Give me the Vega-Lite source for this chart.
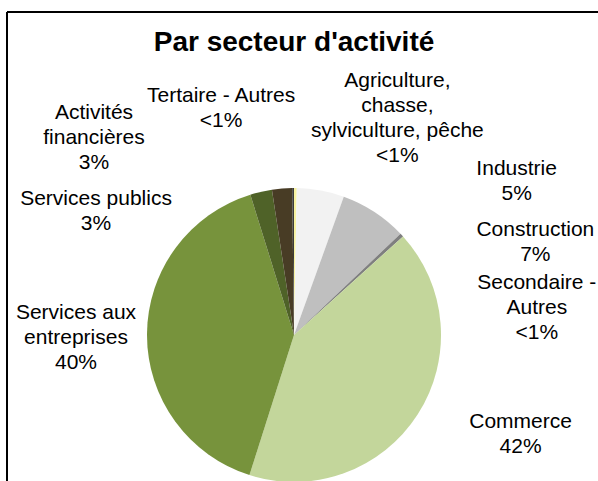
{
  "$schema": "https://vega.github.io/schema/vega-lite/v6.json",
  "width": 574,
  "height": 469,
  "autosize": {"type": "none"},
  "padding": {"left": 7, "top": 12, "right": 17, "bottom": 0},
  "background": "#ffffff",
  "title": {
    "text": "Par secteur d'activité",
    "font": "Liberation Sans",
    "fontSize": 28,
    "fontWeight": "bold",
    "color": "#000000",
    "anchor": "middle",
    "frame": "group",
    "baseline": "alphabetic",
    "offset": -68
  },
  "data": {
    "values": [
      {"rank": 1, "sector": "Agriculture, chasse, sylviculture, pêche", "share": 0.3, "label": "Agriculture,\nchasse,\nsylviculture, pêche\n<1%"},
      {"rank": 2, "sector": "Industrie", "share": 5.2, "label": "Industrie\n5%"},
      {"rank": 3, "sector": "Construction", "share": 7.4, "label": "Construction\n7%"},
      {"rank": 4, "sector": "Secondaire - Autres", "share": 0.4, "label": "Secondaire -\nAutres\n<1%"},
      {"rank": 5, "sector": "Commerce", "share": 41.6, "label": "Commerce\n42%"},
      {"rank": 6, "sector": "Services aux entreprises", "share": 40.3, "label": "Services aux\nentreprises\n40%"},
      {"rank": 7, "sector": "Services publics", "share": 2.4, "label": "Services publics\n3%"},
      {"rank": 8, "sector": "Activités financières", "share": 2.2, "label": "Activités\nfinancières\n3%"},
      {"rank": 9, "sector": "Tertaire - Autres", "share": 0.2, "label": "Tertaire - Autres\n<1%"}
    ]
  },
  "layer": [
    {
      "data": {"values": [{"edge": "left"}]},
      "mark": {"type": "rule", "color": "#000000", "strokeWidth": 2},
      "encoding": {"x": {"value": 0}}
    },
    {
      "data": {"values": [{"edge": "top"}]},
      "mark": {"type": "rule", "color": "#000000", "strokeWidth": 2, "x": 0, "x2": 591},
      "encoding": {"y": {"value": 0}}
    },
    {
      "mark": {"type": "arc", "outerRadius": 147, "y": 323},
      "encoding": {
        "theta": {"field": "share", "type": "quantitative", "stack": true},
        "order": {"field": "rank", "type": "quantitative"},
        "color": {
          "field": "sector",
          "type": "nominal",
          "legend": null,
          "scale": {
            "domain": ["Agriculture, chasse, sylviculture, pêche", "Industrie", "Construction", "Secondaire - Autres", "Commerce", "Services aux entreprises", "Services publics", "Activités financières", "Tertaire - Autres"],
            "range": ["#f7f2a0", "#f2f2f2", "#bfbfbf", "#7f7f7f", "#c3d69b", "#77933c", "#4f6228", "#483c25", "#3b3b3b"]
          }
        }
      }
    },
    {
      "mark": {
        "type": "text",
        "radius": 147,
        "y": 323,
        "font": "Liberation Sans",
        "fontSize": 21,
        "lineHeight": 25,
        "lineBreak": "\n",
        "align": "center",
        "baseline": "middle",
        "color": "#000000",
        "dx": {"expr": "[102, 196, 161, 135, 103, -71, -165, -188, -72][datum.rank - 1]"},
        "dy": {"expr": "[-107.5, -21.5, 18.5, 48, 7.5, -22, 7.5, -75, -92.5][datum.rank - 1]"}
      },
      "encoding": {
        "theta": {"field": "share", "type": "quantitative", "stack": true},
        "order": {"field": "rank", "type": "quantitative"},
        "text": {"field": "label", "type": "nominal"}
      }
    }
  ],
  "config": {"view": {"stroke": null}}
}
